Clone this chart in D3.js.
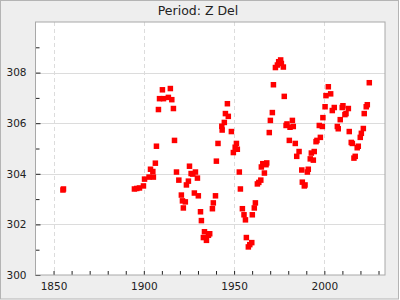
<!DOCTYPE html>
<meta charset="utf-8">

<!-- Load d3.js -->
<script src="https://d3js.org/d3.v7.min.js"></script>

<style>
  body { margin: 0; }
  text { font-family: "DejaVu Sans", sans-serif; fill: #222; }
</style>

<!-- Create a div where the graph will take place -->
<div id="my_dataviz"></div>

<script>

// data
const title = "Period: Z Del";
const years = [
  1855.2, 1855.5, 1894.8, 1896.1, 1897.6, 1899.8, 1900.4, 1902.9, 1903.7, 1905.0,
  1905.3, 1906.4, 1907.0, 1908.1, 1908.7, 1910.3, 1910.9, 1913.6, 1914.7, 1915.5,
  1916.4, 1917.0, 1918.1, 1919.4, 1920.8, 1921.4, 1921.9, 1923.0, 1923.6, 1924.7,
  1925.3, 1926.2, 1927.1, 1928.0, 1928.6, 1929.7, 1930.2, 1931.4, 1931.9, 1933.0,
  1933.6, 1934.7, 1935.8, 1936.5, 1938.0, 1938.5, 1939.7, 1940.2, 1941.1, 1943.2,
  1943.4, 1944.6, 1945.2, 1946.3, 1946.8, 1948.5, 1949.6, 1950.6, 1951.3, 1951.8,
  1952.9, 1953.5, 1954.6, 1955.5, 1956.3, 1956.8, 1957.9, 1958.7, 1959.8, 1960.1,
  1961.2, 1961.8, 1962.9, 1963.7, 1964.8, 1965.1, 1965.9, 1966.8, 1967.7, 1968.1,
  1969.5, 1970.1, 1971.2, 1971.8, 1972.9, 1974.0, 1974.7, 1975.8, 1976.2, 1977.3,
  1977.8, 1978.8, 1979.3, 1980.6, 1981.0, 1982.3, 1982.8, 1983.9, 1984.7, 1986.0,
  1987.5, 1987.8, 1988.9, 1989.3, 1990.6, 1991.1, 1992.2, 1992.8, 1993.9, 1994.4,
  1995.4, 1995.9, 1997.2, 1997.8, 1998.9, 1999.2, 2000.4, 2000.9, 2002.2, 2003.5,
  2004.4, 2005.5, 2007.2, 2007.7, 2008.8, 2009.9, 2010.3, 2011.4, 2012.0, 2013.3,
  2013.8, 2014.9, 2015.5, 2016.4, 2017.1, 2018.2, 2018.8, 2019.9, 2020.5, 2021.6,
  2022.1, 2023.2, 2023.8, 2024.9
];
const periods = [
  303.36, 303.40, 303.40, 303.42, 303.44, 303.52, 303.79, 303.87, 304.18, 304.09,
  303.87, 304.42, 305.09, 306.54, 306.97, 307.32, 306.97, 307.02, 307.37, 306.93,
  306.58, 305.32, 304.07, 303.75, 303.16, 302.93, 302.65, 302.89, 303.56, 303.71,
  304.30, 304.01, 303.99, 303.24, 304.07, 303.83, 303.13, 302.50, 302.15, 301.48,
  301.71, 301.37, 301.57, 301.63, 302.62, 302.85, 303.13, 304.50, 305.20, 305.88,
  305.73, 306.03, 306.38, 306.77, 306.27, 305.67, 304.84, 305.05, 305.20, 304.97,
  304.07, 303.40, 302.62, 302.38, 302.18, 301.48, 301.11, 301.20, 301.28, 302.38,
  302.65, 302.85, 303.60, 303.66, 303.75, 304.27, 304.40, 304.03, 304.36, 304.43,
  305.63, 306.11, 306.42, 307.52, 308.20, 308.30, 308.43, 308.50, 308.36, 308.22,
  307.06, 305.91, 305.97, 305.32, 305.84, 306.11, 305.87, 305.20, 304.69, 304.88,
  304.15, 303.67, 303.52, 303.56, 304.07, 304.18, 304.59, 304.82, 304.54, 304.88,
  305.27, 305.32, 305.91, 305.44, 305.87, 306.22, 306.65, 307.09, 307.44, 307.16,
  306.50, 306.62, 305.87, 305.78, 306.14, 306.62, 306.69, 306.34, 306.38, 306.58,
  305.67, 305.24, 305.20, 304.62, 304.69, 305.03, 305.09, 305.44, 305.60, 305.79,
  306.38, 306.65, 306.73, 307.60
];
const xLabels = [1850, 1900, 1950, 2000];
const yLabels = [300, 302, 304, 306, 308];

// dimensions of the picture and of the plot box
const W = 400, H = 300;
const box = {left: 35.5, right: 385, top: 22, bottom: 275};

const svg = d3.select("#my_dataviz")
  .append("svg")
    .attr("width", W)
    .attr("height", H);

// grey page with a thin frame
svg.append("rect")
    .attr("x", 0.5).attr("y", 0.5)
    .attr("width", W - 2).attr("height", H - 1.5)
    .attr("fill", "#eeeeee")
    .attr("stroke", "#b4b4b4");

// white plot area
svg.append("rect")
    .attr("x", box.left).attr("y", box.top)
    .attr("width", box.right - box.left).attr("height", box.bottom - box.top)
    .attr("fill", "#fff");

// scales
const x = d3.scaleLinear()
    .domain([1840, 2033.6])
    .range([box.left, box.right]);
const y = d3.scaleLinear()
    .domain([300, 310])
    .range([box.bottom, box.top]);

// grid: dashed verticals, solid horizontals
svg.append("g")
  .selectAll("line")
  .data(xLabels)
  .join("line")
    .attr("x1", d => Math.round(x(d)) + 0.5)
    .attr("x2", d => Math.round(x(d)) + 0.5)
    .attr("y1", box.top)
    .attr("y2", box.bottom)
    .attr("stroke", "#dcdcdc")
    .attr("stroke-dasharray", "4,3");
svg.append("g")
  .selectAll("line")
  .data(yLabels.filter(d => d > 300))
  .join("line")
    .attr("x1", box.left)
    .attr("x2", box.right)
    .attr("y1", d => Math.round(y(d)) + 0.5)
    .attr("y2", d => Math.round(y(d)) + 0.5)
    .attr("stroke", "#dcdcdc");

// ticks point inwards, labels every 50 years / 2 units
const xAxis = svg.append("g")
    .attr("transform", `translate(0, ${box.bottom})`)
    .call(d3.axisBottom(x)
      .tickValues(d3.range(1850, 2031, 10))
      .tickSizeInner(-4)
      .tickSizeOuter(0)
      .tickPadding(8)
      .tickFormat(d => xLabels.includes(d) ? d : ""));

const yAxis = svg.append("g")
    .attr("transform", `translate(${box.left}, 0)`)
    .call(d3.axisLeft(y)
      .tickValues(d3.range(300, 310, 1))
      .tickSize(-4)
      .tickSizeOuter(0)
      .tickPadding(9)
      .tickFormat(d => yLabels.includes(d) ? d : ""));

[xAxis, yAxis].forEach(function(a) {
  a.select(".domain").remove();
  a.selectAll("line").attr("stroke", "#222");
  a.selectAll("text")
    .style("font-family", "DejaVu Sans, sans-serif")
    .style("font-size", "10.5px")
    .attr("fill", "#222");
});
yAxis.selectAll(".tick line").attr("x1", 0).attr("x2", 4);
yAxis.selectAll(".tick").filter(d => d % 2 === 0).select("line").attr("x2", 5);

// plot frame
svg.append("rect")
    .attr("x", box.left).attr("y", box.top)
    .attr("width", box.right - box.left).attr("height", box.bottom - box.top)
    .attr("fill", "none")
    .attr("stroke", "#a8a8a8");

// the points
const size = 5.5;
svg.append("g")
  .selectAll("rect")
  .data(years.map((d, i) => [d, periods[i]]))
  .join("rect")
    .attr("x", d => x(d[0]) - size / 2)
    .attr("y", d => y(d[1]) - size / 2)
    .attr("width", size)
    .attr("height", size)
    .attr("fill", "#ff0000");

// title
svg.append("text")
    .attr("x", 198)
    .attr("y", 15)
    .attr("text-anchor", "middle")
    .style("font-size", "12.5px")
    .text(title);

</script>
